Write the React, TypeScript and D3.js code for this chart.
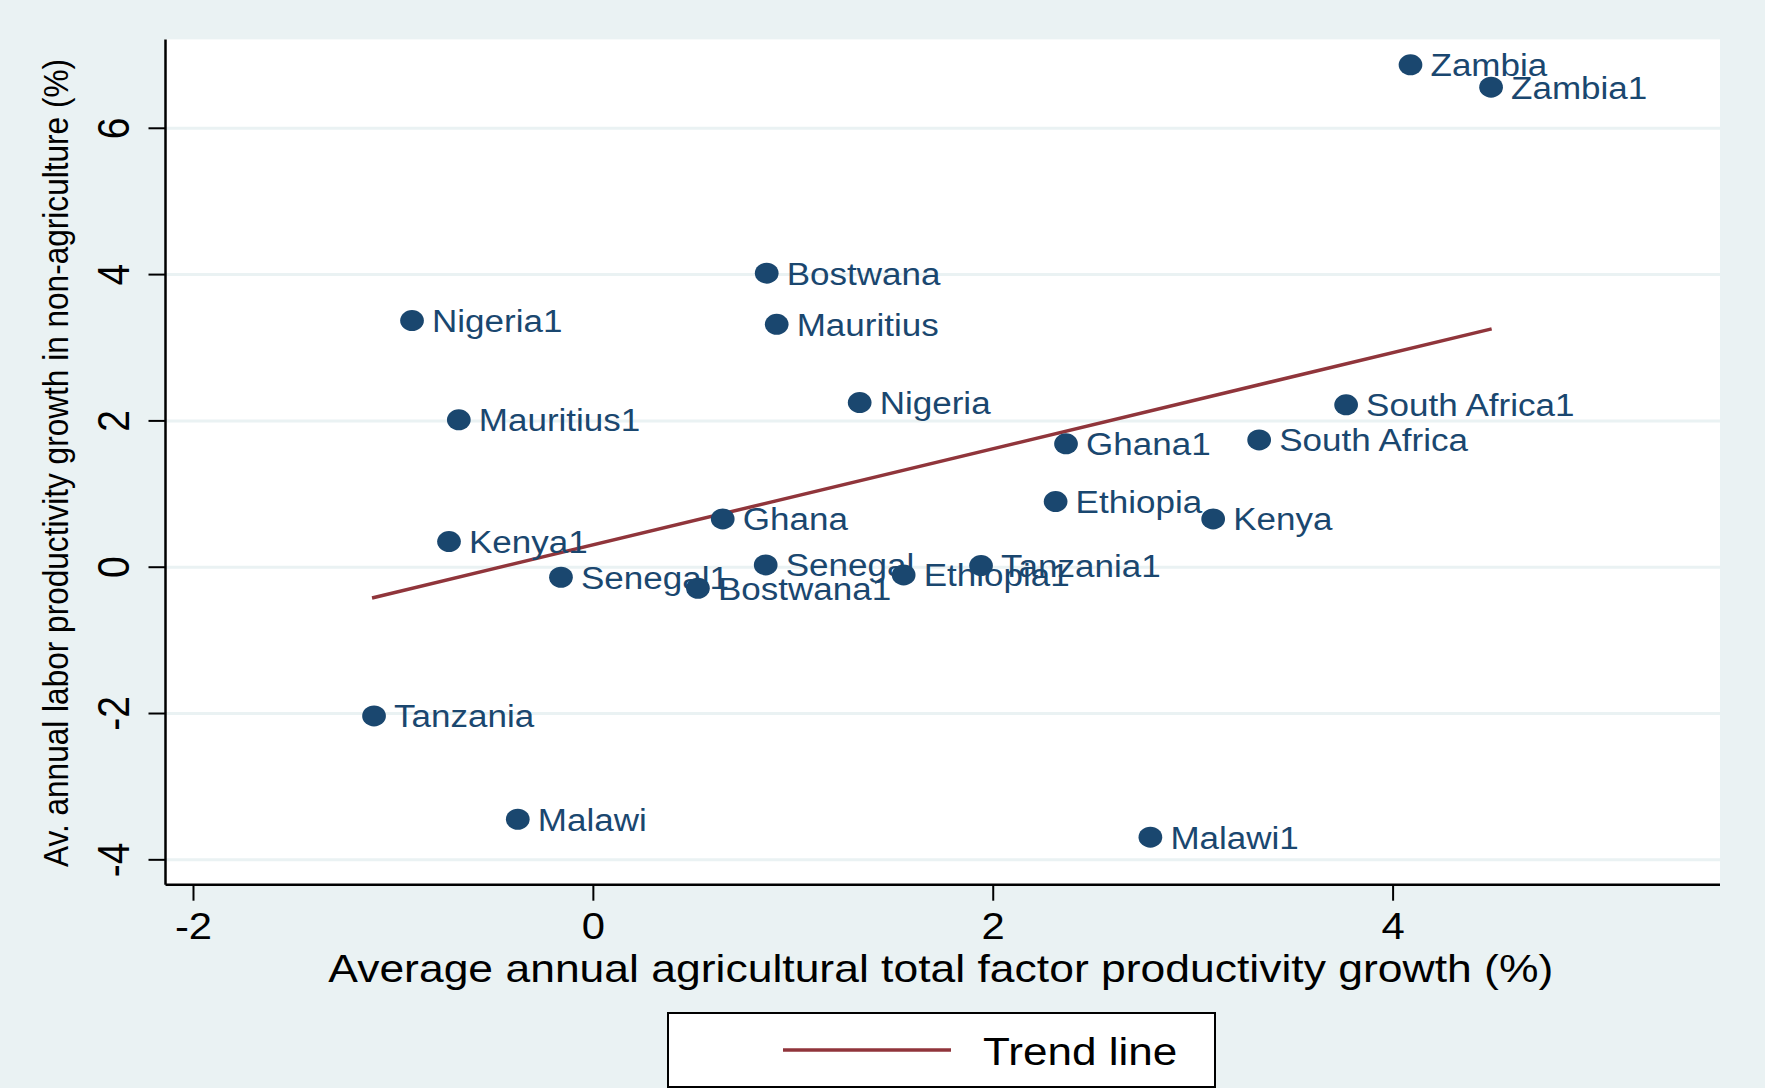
import React, { useEffect } from "react";
import * as d3 from "d3";

const countries = [
  "Zambia", "Zambia1", "Bostwana", "Mauritius", "Nigeria1", "Nigeria", "Mauritius1",
  "South Africa1", "Ghana1", "South Africa", "Ethiopia", "Kenya", "Ghana", "Kenya1",
  "Senegal", "Tanzania1", "Ethiopia1", "Senegal1", "Bostwana1", "Tanzania", "Malawi", "Malawi1",
];
const tfpGrowth = [
  4.087, 4.49, 0.867, 0.917, -0.907, 1.332, -0.673,
  3.765, 2.364, 3.33, 2.312, 3.1, 0.647, -0.722,
  0.862, 1.939, 1.552, -0.162, 0.523, -1.097, -0.378, 2.786,
];
const laborGrowth = [
  6.867, 6.562, 4.02, 3.32, 3.371, 2.25, 2.015,
  2.22, 1.686, 1.74, 0.897, 0.66, 0.66, 0.35,
  0.031, 0.022, -0.105, -0.137, -0.287, -2.033, -3.445, -3.69,
];
const trendX = [-1.107, 4.493];
const trendY = [-0.42, 3.258];
const xTicks = [-2, 0, 2, 4];
const yTicks = [-4, -2, 0, 2, 4, 6];
const xTitle = "Average annual agricultural total factor productivity growth (%)";
const yTitle = "Av. annual labor productivity growth in non-agriculture (%)";
const legendLabel = "Trend line";

const W = 1765;
const H = 1088;
const SX = 1.13;
const FONT = "'Liberation Sans', Arial, Helvetica, sans-serif";
const BG = "#eaf2f3";
const NAVY = "#1a476f";
const MAROON = "#90353b";

export default function App() {
  useEffect(() => {
    document.body.style.margin = "0";
  }, []);

  const left = 165.5, right = 1720, top = 39.4, bottom = 884.7;
  const x = d3.scaleLinear().domain([-2.14, 5.635]).range([left, right]);
  const y = d3.scaleLinear().domain([-4.34, 7.215]).range([bottom, top]);

  const points = countries.map((name, i) => ({ name, x: tfpGrowth[i], y: laborGrowth[i] }));
  const trend = trendX.map((v, i) => [v, trendY[i]] as [number, number]);
  const line = d3.line<[number, number]>().x((d) => x(d[0])).y((d) => y(d[1]));

  const legL = 668, legR = 1215, legT = 1013, legB = 1087;

  return (
    <svg width={W} height={H} style={{ display: "block" }} fontFamily={FONT}>
      <rect x={0} y={0} width={W} height={H} fill={BG} />
      <rect x={left} y={top} width={right - left} height={bottom - top} fill="#ffffff" />
      {yTicks.map((t) => (
        <line key={"g" + t} x1={left} x2={right} y1={y(t)} y2={y(t)} stroke={BG} strokeWidth={3} />
      ))}
      {/* axes */}
      <line x1={left} x2={left} y1={top} y2={bottom} stroke="#000" strokeWidth={2.5} />
      <line x1={left} x2={right} y1={bottom} y2={bottom} stroke="#000" strokeWidth={2.5} />
      {yTicks.map((t) => (
        <g key={"yt" + t}>
          <line x1={left - 17} x2={left} y1={y(t)} y2={y(t)} stroke="#000" strokeWidth={2} />
          <text
            transform={`translate(129,${y(t)}) scale(${SX},1) rotate(-90)`}
            textAnchor="middle"
            fontSize={39}
            fill="#000"
          >
            {t}
          </text>
        </g>
      ))}
      {xTicks.map((t) => (
        <g key={"xt" + t}>
          <line x1={x(t)} x2={x(t)} y1={bottom} y2={bottom + 16} stroke="#000" strokeWidth={2} />
          <text
            transform={`translate(${x(t)},939) scale(${SX},1)`}
            textAnchor="middle"
            fontSize={37}
            fill="#000"
          >
            {t}
          </text>
        </g>
      ))}
      <text
        transform={`translate(${(left + right) / 2 - 2},982) scale(${SX},1)`}
        textAnchor="middle"
        fontSize={39}
        fill="#000"
        textLength={1084}
        lengthAdjust="spacingAndGlyphs"
      >
        {xTitle}
      </text>
      <text
        transform={`translate(68,463) scale(${SX},1) rotate(-90)`}
        textAnchor="middle"
        fontSize={31.5}
        fill="#000"
        textLength={808}
        lengthAdjust="spacingAndGlyphs"
      >
        {yTitle}
      </text>
      {/* trend line */}
      <path d={line(trend) || ""} fill="none" stroke={MAROON} strokeWidth={3.5} />
      {/* points */}
      {points.map((p) => (
        <g key={p.name}>
          <ellipse cx={x(p.x)} cy={y(p.y)} rx={10.5 * SX} ry={10.5} fill={NAVY} />
          <text
            transform={`translate(${x(p.x) + 20},${y(p.y) + 11.5}) scale(${SX},1)`}
            fontSize={31}
            fill={NAVY}
          >
            {p.name}
          </text>
        </g>
      ))}
      {/* legend */}
      <rect x={legL} y={legT} width={legR - legL} height={legB - legT} fill="#fff" stroke="#000" strokeWidth={2} />
      <line x1={783} x2={951} y1={1050} y2={1050} stroke={MAROON} strokeWidth={3.5} />
      <text transform={`translate(983,1065) scale(${SX},1)`} fontSize={39} fill="#000">
        {legendLabel}
      </text>
    </svg>
  );
}
